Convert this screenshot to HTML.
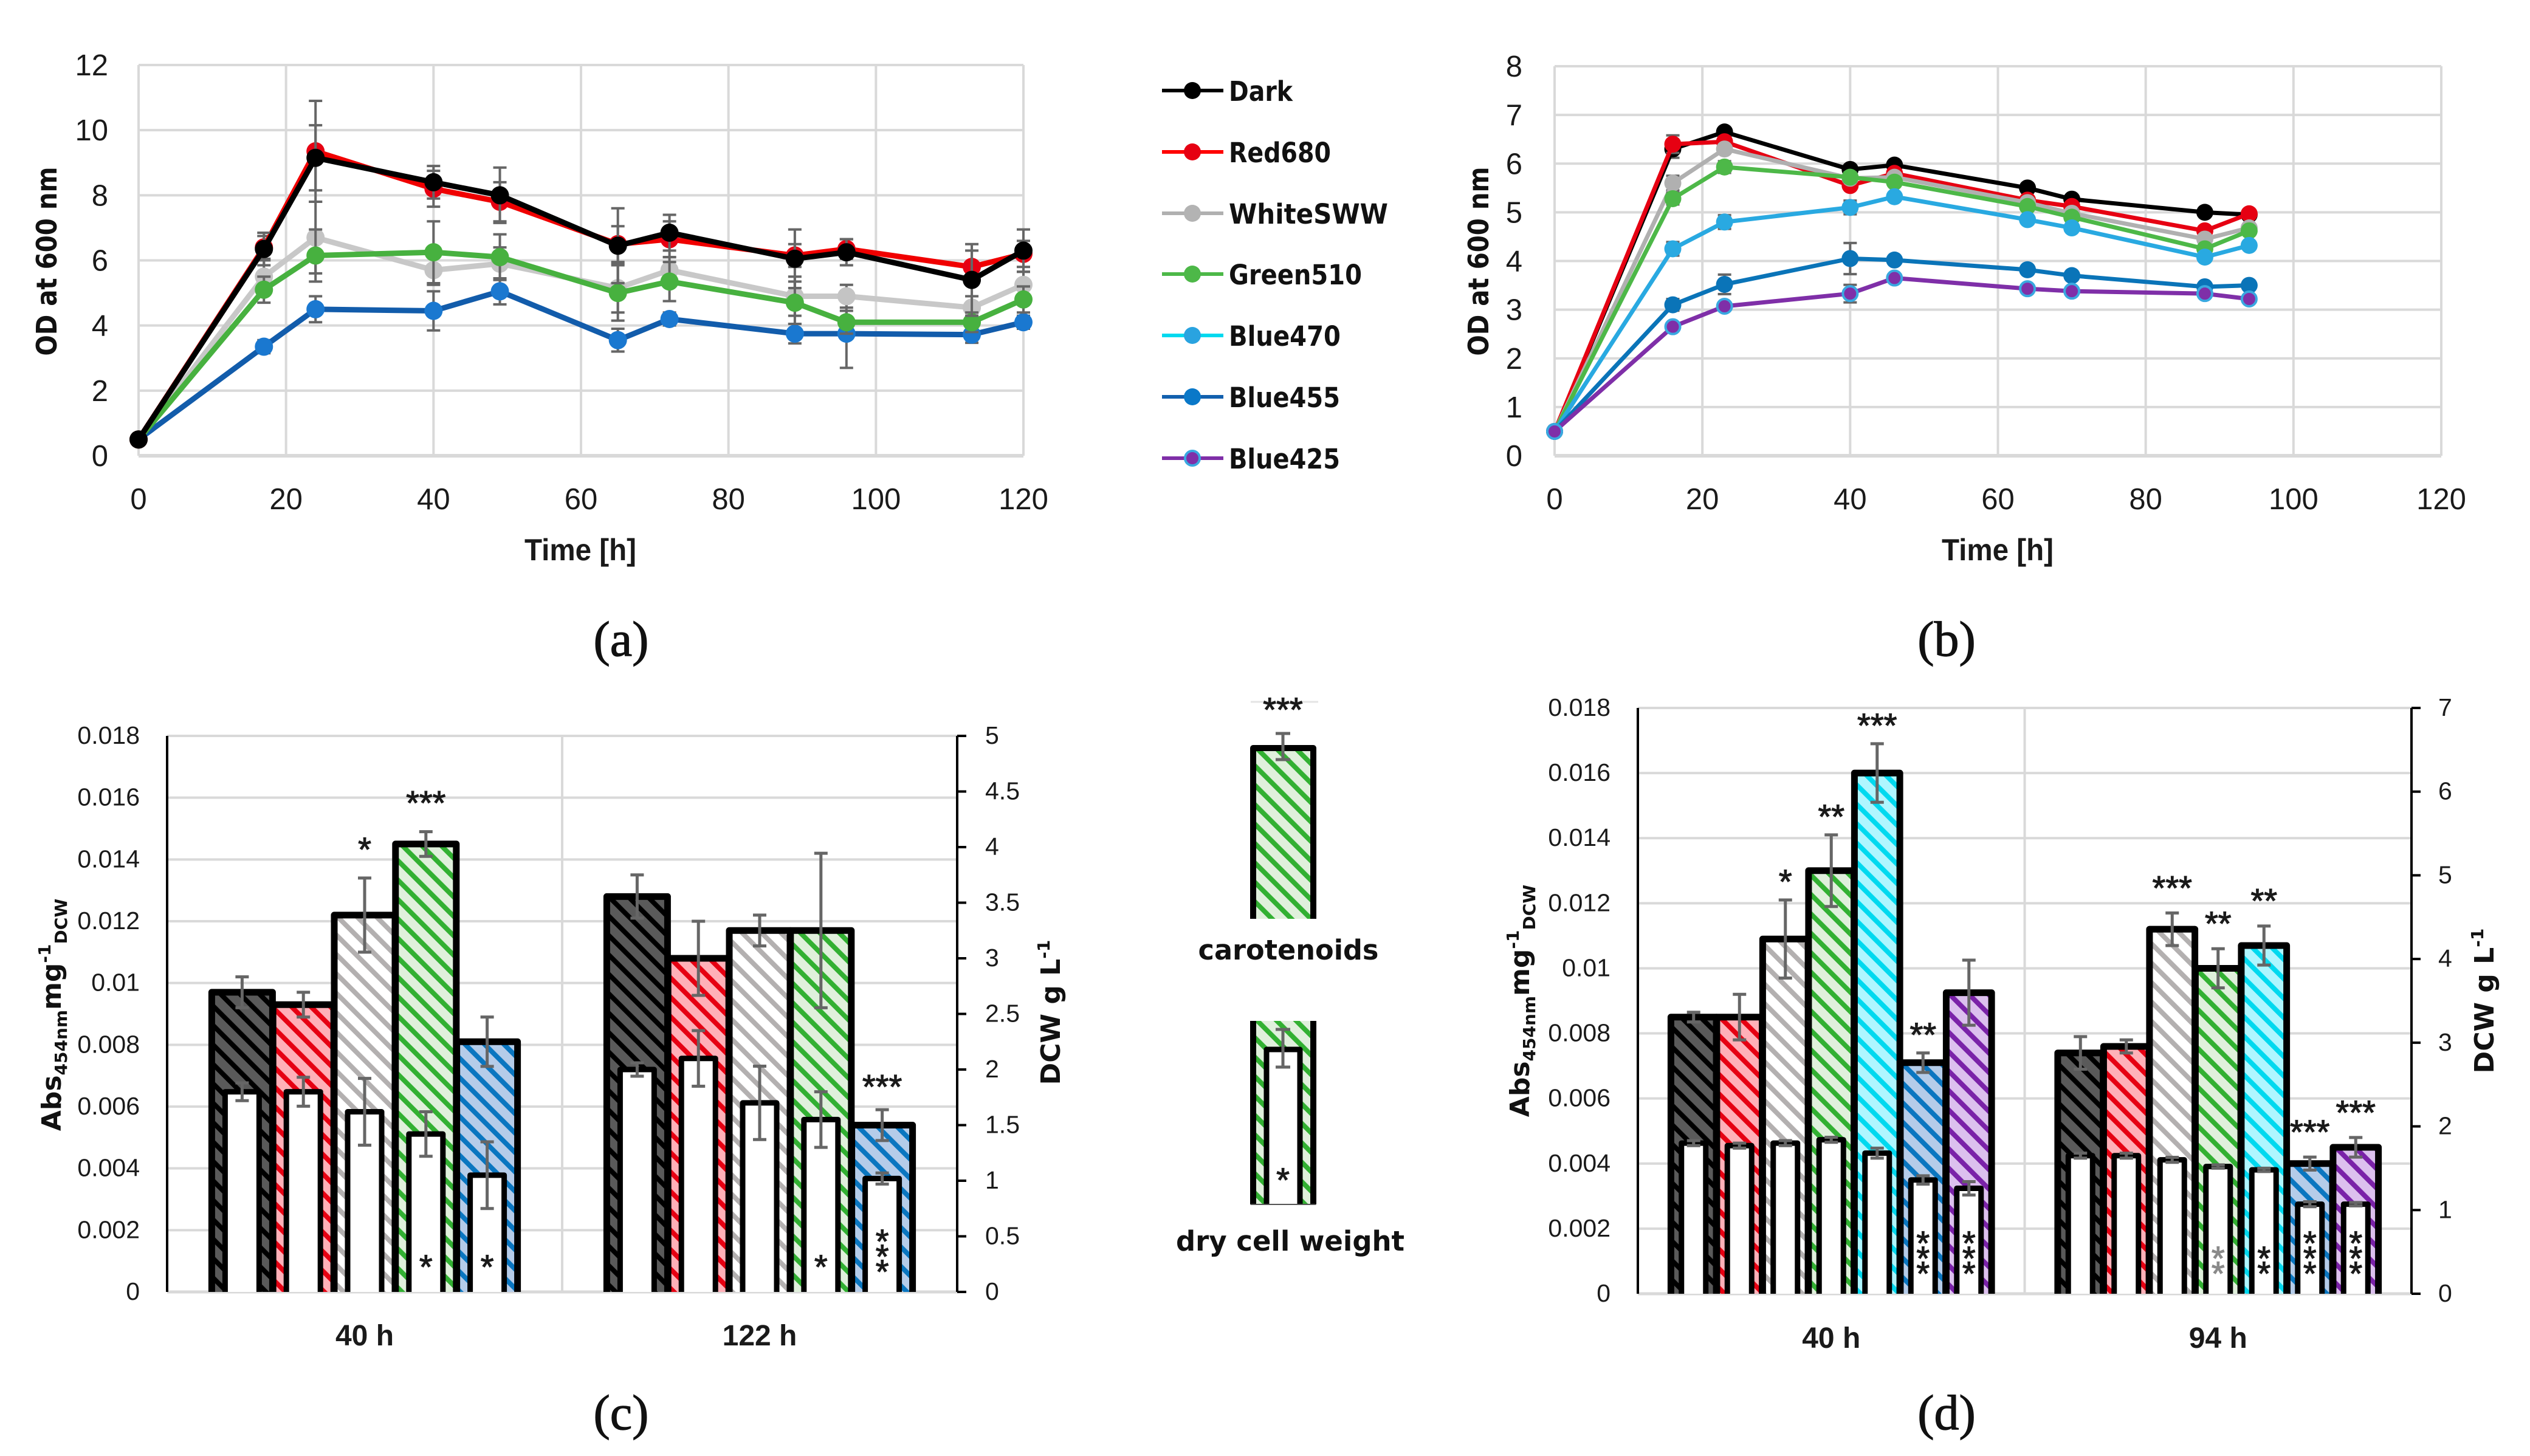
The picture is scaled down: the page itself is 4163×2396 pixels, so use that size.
<!DOCTYPE html>
<html lang="en">
<head>
<meta charset="utf-8">
<title>Growth and carotenoid charts</title>
<style>
html,body{margin:0;padding:0;background:#fff}
svg{display:block}
text{font-family:"Liberation Sans",sans-serif;fill:#1a1a1a}
.title{font-family:"DejaVu Sans","Liberation Sans",sans-serif;font-weight:700;fill:#111}
.panel{font-family:"Liberation Serif",serif;font-size:82px;fill:#111;stroke:#111;stroke-width:1.2}
.lg{font-family:"DejaVu Sans","Liberation Sans",sans-serif;font-weight:700;font-size:45px;fill:#111}
.star{stroke:#1a1a1a;stroke-width:1.2}
</style>
</head>
<body>
<svg id="root" xmlns="http://www.w3.org/2000/svg" width="4163" height="2396" viewBox="0 0 4163 2396">
<defs>
<pattern id="hatch-dark" patternUnits="userSpaceOnUse" width="22.6" height="22.6" patternTransform="rotate(-45)"><rect width="22.6" height="22.6" fill="#5a5a5a"/><rect width="8" height="22.6" fill="#000"/></pattern>
<pattern id="hatch-red" patternUnits="userSpaceOnUse" width="22.6" height="22.6" patternTransform="rotate(-45)"><rect width="22.6" height="22.6" fill="#ffb0b8"/><rect width="8" height="22.6" fill="#e60012"/></pattern>
<pattern id="hatch-gray" patternUnits="userSpaceOnUse" width="22.6" height="22.6" patternTransform="rotate(-45)"><rect width="22.6" height="22.6" fill="#fff"/><rect width="8" height="22.6" fill="#b3b0b0"/></pattern>
<pattern id="hatch-green" patternUnits="userSpaceOnUse" width="22.6" height="22.6" patternTransform="rotate(-45)"><rect width="22.6" height="22.6" fill="#e0f0dc"/><rect width="8" height="22.6" fill="#32b032"/></pattern>
<pattern id="hatch-cyan" patternUnits="userSpaceOnUse" width="22.6" height="22.6" patternTransform="rotate(-45)"><rect width="22.6" height="22.6" fill="#aff6ff"/><rect width="8" height="22.6" fill="#00d9ef"/></pattern>
<pattern id="hatch-blue" patternUnits="userSpaceOnUse" width="22.6" height="22.6" patternTransform="rotate(-45)"><rect width="22.6" height="22.6" fill="#b5cce9"/><rect width="8" height="22.6" fill="#0a76c0"/></pattern>
<pattern id="hatch-purple" patternUnits="userSpaceOnUse" width="22.6" height="22.6" patternTransform="rotate(-45)"><rect width="22.6" height="22.6" fill="#dcc0ee"/><rect width="8" height="22.6" fill="#7a22a8"/></pattern>
</defs>

<g id="chart-a"></g>
<g id="chart-b"></g>
<g id="chart-c"></g>
<g id="chart-d"></g>

<text class="title" font-size="46" transform="translate(93,430) rotate(-90)" text-anchor="middle" textLength="311" lengthAdjust="spacingAndGlyphs">OD at 600 nm</text>
<text x="955" y="922" font-size="50" font-weight="700" text-anchor="middle" textLength="184" lengthAdjust="spacingAndGlyphs">Time [h]</text>
<text class="title" font-size="46" transform="translate(2449,430) rotate(-90)" text-anchor="middle" textLength="311" lengthAdjust="spacingAndGlyphs">OD at 600 nm</text>
<text x="3287" y="922" font-size="50" font-weight="700" text-anchor="middle" textLength="184" lengthAdjust="spacingAndGlyphs">Time [h]</text>

<text class="title" font-size="44" transform="translate(100,1670) rotate(-90)" text-anchor="middle">Abs<tspan font-size="28" dy="10">454nm</tspan><tspan font-size="44" dy="-10">mg</tspan><tspan font-size="28" dy="-17">-1</tspan><tspan font-size="28" dy="27">DCW</tspan></text>
<text class="title" font-size="44" transform="translate(1744,1666) rotate(-90)" text-anchor="middle">DCW g L<tspan font-size="28" dy="-17">-1</tspan></text>
<text class="title" font-size="44" transform="translate(2516,1647) rotate(-90)" text-anchor="middle">Abs<tspan font-size="28" dy="10">454nm</tspan><tspan font-size="44" dy="-10">mg</tspan><tspan font-size="28" dy="-17">-1</tspan><tspan font-size="28" dy="27">DCW</tspan></text>
<text class="title" font-size="44" transform="translate(4103,1647) rotate(-90)" text-anchor="middle">DCW g L<tspan font-size="28" dy="-17">-1</tspan></text>

<text class="panel" x="1022" y="1079" text-anchor="middle">(a)</text>
<text class="panel" x="3203" y="1079" text-anchor="middle">(b)</text>
<text class="panel" x="1022" y="2352" text-anchor="middle">(c)</text>
<text class="panel" x="3203" y="2352" text-anchor="middle">(d)</text>

<g>
  <g><line x1="1912" x2="2013" y1="149" y2="149" stroke="#000" stroke-width="6"/><circle cx="1962" cy="149" r="14" fill="#000"/><text class="lg" x="2022" y="166" textLength="105" lengthAdjust="spacingAndGlyphs">Dark</text></g>
  <g><line x1="1912" x2="2013" y1="250" y2="250" stroke="#f00" stroke-width="6"/><circle cx="1962" cy="250" r="14" fill="#e60012"/><text class="lg" x="2022" y="267" textLength="168" lengthAdjust="spacingAndGlyphs">Red680</text></g>
  <g><line x1="1912" x2="2013" y1="351" y2="351" stroke="#b0b0b0" stroke-width="6"/><circle cx="1962" cy="351" r="14" fill="#b3b3b3"/><text class="lg" x="2022" y="368" textLength="262" lengthAdjust="spacingAndGlyphs">WhiteSWW</text></g>
  <g><line x1="1912" x2="2013" y1="451" y2="451" stroke="#4db848" stroke-width="6"/><circle cx="1962" cy="451" r="14" fill="#4db848"/><text class="lg" x="2022" y="468" textLength="219" lengthAdjust="spacingAndGlyphs">Green510</text></g>
  <g><line x1="1912" x2="2013" y1="552" y2="552" stroke="#00d9ef" stroke-width="6"/><circle cx="1962" cy="552" r="14" fill="#29a3e0"/><text class="lg" x="2022" y="569" textLength="184" lengthAdjust="spacingAndGlyphs">Blue470</text></g>
  <g><line x1="1912" x2="2013" y1="653" y2="653" stroke="#1260ae" stroke-width="6"/><circle cx="1962" cy="653" r="14" fill="#0a78c8"/><text class="lg" x="2022" y="670" textLength="183" lengthAdjust="spacingAndGlyphs">Blue455</text></g>
  <g><line x1="1912" x2="2013" y1="754" y2="754" stroke="#7f2fa8" stroke-width="6"/><circle cx="1962" cy="754" r="12" fill="#7f2fa8" stroke="#3aa8e0" stroke-width="4"/><text class="lg" x="2022" y="771" textLength="183" lengthAdjust="spacingAndGlyphs">Blue425</text></g>
</g>

<g>
  <g>
    <line x1="2058" x2="2169" y1="1155" y2="1155" stroke="#e4e4e4" stroke-width="3"/>
    <text class="star" x="2111" y="1187" font-size="56" text-anchor="middle">***</text>
    <path d="M2062,1512V1231H2161V1512Z" fill="url(#hatch-green)"/>
    <path d="M2062,1512V1231H2161V1512" fill="none" stroke="#000" stroke-width="10" stroke-linejoin="round"/>
    <path d="M2111,1207V1250M2099,1207H2123M2099,1250H2123" stroke="#666" stroke-width="5" fill="none"/>
    <text class="lg" x="2120" y="1579" text-anchor="middle" textLength="297" lengthAdjust="spacingAndGlyphs">carotenoids</text>
  </g>
  <g>
    <rect x="2058" y="1680" width="107" height="302" fill="url(#hatch-green)"/>
    <path d="M2062,1680V1982M2161,1680V1982" stroke="#000" stroke-width="10" fill="none"/>
    <path d="M2084,1982V1727H2139V1982Z" fill="#fff"/>
    <path d="M2084,1982V1727H2139V1982" fill="none" stroke="#000" stroke-width="9" stroke-linejoin="round"/>
    <line x1="2058" x2="2165" y1="1982" y2="1982" stroke="#555" stroke-width="2"/>
    <path d="M2111,1694V1756M2099,1694H2123M2099,1756H2123" stroke="#666" stroke-width="5" fill="none"/>
    <text class="star" x="2111" y="1961" font-size="56" text-anchor="middle">*</text>
    <text class="lg" x="2123" y="2058" text-anchor="middle" textLength="376" lengthAdjust="spacingAndGlyphs">dry cell weight</text>
  </g>
</g>
</svg>

<script>
// ----- Chart (a) data -----
const aHours = [0, 17, 24, 40, 49, 65, 72, 89, 96, 113, 120];
const aDark = [0.5, 6.35, 9.15, 8.4, 8.0, 6.45, 6.85, 6.05, 6.25, 5.4, 6.3];
const aDarkErr = [0, 0.5, 1.0, 0.5, 0.85, 1.15, 0.55, 0.9, 0.4, 1.1, 0.65];
const aRed = [0.5, 6.4, 9.35, 8.2, 7.8, 6.5, 6.65, 6.15, 6.35, 5.8, 6.2];
const aRedErr = [0, 0.35, 1.55, 0.55, 0.6, 0.55, 0.55, 0.35, 0.3, 0.5, 0.4];
const aWhite = [0.5, 5.5, 6.7, 5.7, 5.9, 5.15, 5.7, 4.9, 4.9, 4.55, 5.25];
const aWhiteErr = [0, 0.5, 1.1, 0.45, 0.5, 0.75, 0.4, 0.6, 0.35, 0.35, 0.4];
const aGreen = [0.5, 5.1, 6.15, 6.25, 6.1, 5.0, 5.35, 4.7, 4.1, 4.1, 4.8];
const aGreenErr = [0, 0.4, 0.8, 0.95, 0.7, 0.85, 0.6, 0.65, 0.35, 0.3, 0.4];
const aBlue = [0.5, 3.35, 4.5, 4.45, 5.05, 3.55, 4.2, 3.75, 3.75, 3.72, 4.1];
const aBlueErr = [0, 0.2, 0.4, 0.6, 0.4, 0.35, 0.2, 0.3, 1.05, 0.25, 0.2];
const aXTicks = [0, 20, 40, 60, 80, 100, 120];
const aYTicks = [0, 2, 4, 6, 8, 10, 12];

// ----- Chart (b) data -----
const bHours = [0, 16, 23, 40, 46, 64, 70, 88, 94];
const bDark = [0.5, 6.3, 6.65, 5.88, 5.97, 5.5, 5.27, 5.0, 4.95];
const bDarkErr = [0, 0.18, 0.05, 0.05, 0.05, 0.08, 0.05, 0.05, 0.05];
const bRed = [0.5, 6.4, 6.45, 5.55, 5.8, 5.25, 5.12, 4.62, 4.97];
const bRedErr = [0, 0.18, 0.1, 0.05, 0.05, 0.05, 0.05, 0.05, 0.05];
const bWhite = [0.5, 5.6, 6.3, 5.7, 5.72, 5.2, 4.98, 4.45, 4.68];
const bWhiteErr = [0, 0.15, 0.08, 0.05, 0.05, 0.05, 0.05, 0.05, 0.05];
const bGreen = [0.5, 5.28, 5.93, 5.72, 5.62, 5.12, 4.9, 4.25, 4.62];
const bGreenErr = [0, 0.12, 0.12, 0.1, 0.05, 0.05, 0.05, 0.05, 0.05];
const bB470 = [0.5, 4.25, 4.8, 5.1, 5.32, 4.85, 4.68, 4.08, 4.32];
const bB470Err = [0, 0.14, 0.14, 0.14, 0.08, 0.05, 0.05, 0.05, 0.05];
const bB455 = [0.5, 3.1, 3.52, 4.05, 4.02, 3.82, 3.7, 3.47, 3.5];
const bB455Err = [0, 0.12, 0.2, 0.32, 0.05, 0.05, 0.05, 0.05, 0.05];
const bB425 = [0.5, 2.65, 3.07, 3.33, 3.65, 3.43, 3.38, 3.33, 3.22];
const bB425Err = [0, 0.05, 0.05, 0.18, 0.05, 0.05, 0.05, 0.05, 0.05];
const bXTicks = [0, 20, 40, 60, 80, 100, 120];
const bYTicks = [0, 1, 2, 3, 4, 5, 6, 7, 8];

// ----- Chart (c) data -----
const cCategories = ['40 h', '122 h'];
const cFills = ['dark', 'red', 'gray', 'green', 'blue'];
const cCarotenoids = [[0.0097, 0.0093, 0.0122, 0.0145, 0.0081], [0.0128, 0.0108, 0.0117, 0.0117, 0.0054]];
const cCarotenoidsErr = [[0.0005, 0.0004, 0.0012, 0.0004, 0.0008], [0.0007, 0.0012, 0.0005, 0.0025, 0.0005]];
const cDcw = [[1.8, 1.8, 1.62, 1.42, 1.05], [2.0, 2.1, 1.7, 1.55, 1.02]];
const cDcwErr = [[0.08, 0.13, 0.3, 0.2, 0.3], [0.06, 0.25, 0.33, 0.25, 0.05]];
const cSigTop = [[0, 0, 1, 3, 0], [0, 0, 0, 0, 3]];
const cSigInner = [[0, 0, 0, 1, 1], [0, 0, 0, 1, 3]];
const cSigGap = [0.00118, 0.001];
const cLeftTicks = [0, 0.002, 0.004, 0.006, 0.008, 0.01, 0.012, 0.014, 0.016, 0.018];
const cRightTicks = [0, 0.5, 1, 1.5, 2, 2.5, 3, 3.5, 4, 4.5, 5];

// ----- Chart (d) data -----
const dCategories = ['40 h', '94 h'];
const dFills = ['dark', 'red', 'gray', 'green', 'cyan', 'blue', 'purple'];
const dCarotenoids = [[0.0085, 0.0085, 0.0109, 0.013, 0.016, 0.0071, 0.00925], [0.0074, 0.0076, 0.0112, 0.01, 0.0107, 0.004, 0.0045]];
const dCarotenoidsErr = [[0.00015, 0.0007, 0.0012, 0.0011, 0.0009, 0.0003, 0.001], [0.0005, 0.0002, 0.0005, 0.0006, 0.0006, 0.0002, 0.0003]];
const dDcw = [[1.8, 1.77, 1.8, 1.84, 1.68, 1.36, 1.26], [1.65, 1.65, 1.6, 1.52, 1.48, 1.07, 1.07]];
const dDcwErr = [[0.03, 0.03, 0.03, 0.03, 0.06, 0.05, 0.08], [0.03, 0.03, 0.03, 0.02, 0.02, 0.03, 0.02]];
const dSigTop = [[0, 0, 1, 2, 3, 2, 0], [0, 0, 3, 2, 2, 3, 3]];
const dSigInner = [[0, 0, 0, 0, 0, 3, 3], [0, 0, 0, 2, 2, 3, 3]];
const dSigGap = [0.0008, 0.00101];
const dLeftTicks = [0, 0.002, 0.004, 0.006, 0.008, 0.01, 0.012, 0.014, 0.016, 0.018];
const dRightTicks = [0, 1, 2, 3, 4, 5, 6, 7];

const NS = 'http://www.w3.org/2000/svg';
function mk(tag, attrs, parent, txt) {
  const el = document.createElementNS(NS, tag);
  for (const k in attrs) el.setAttribute(k, attrs[k]);
  if (txt !== undefined) el.textContent = txt;
  parent.appendChild(el);
  return el;
}
function scale(d0, d1, r0, r1) {
  return function (v) { return r0 + (v - d0) / (d1 - d0) * (r1 - r0); };
}
const GRID = '#d9d9d9';
const ERR = '#666';

function errorBar(g, cx, yTop, yBot, cap, width, name) {
  const el = mk('path', {
    d: 'M' + cx + ',' + yTop + 'V' + yBot + 'M' + (cx - cap) + ',' + yTop + 'H' + (cx + cap) + 'M' + (cx - cap) + ',' + yBot + 'H' + (cx + cap),
    stroke: ERR, 'stroke-width': width, fill: 'none'
  }, g);
  
  
}

function lineChart(id, box, xTicks, yTicks, hours, series) {
  const g = document.getElementById(id);
  const X = scale(xTicks[0], xTicks[xTicks.length - 1], box.x0, box.x1);
  const Y = scale(yTicks[0], yTicks[yTicks.length - 1], box.y0, box.y1);
  xTicks.forEach(function (t) {
    const gl = mk('line', { x1: X(t), x2: X(t), y1: box.y1, y2: box.y0, stroke: GRID, 'stroke-width': 4 }, g);
    
    
    const lb = mk('text', { x: X(t), y: box.y0 + 88, 'font-size': 49, 'text-anchor': 'middle' }, g, String(t));
    
    
  });
  yTicks.forEach(function (t) {
    const gl = mk('line', { x1: box.x0, x2: box.x1, y1: Y(t), y2: Y(t), stroke: GRID, 'stroke-width': t === 0 ? 6 : 4 }, g);
    
    
    const lb = mk('text', { x: box.labelX, y: Y(t) + 17, 'font-size': 49, 'text-anchor': 'end' }, g, String(t));
    
    
  });
  series.forEach(function (s) {
    const sg = mk('g', {}, g);
    
    
    hours.forEach(function (h, i) {
      if (s.err[i] > 0) {
        errorBar(sg, X(h), Y(s.values[i] + s.err[i]), Y(s.values[i] - s.err[i]), 11, 4, s.name + '-error-bar');
      }
    });
    const pts = hours.map(function (h, i) { return X(h) + ',' + Y(s.values[i]); }).join(' ');
    const ln = mk('polyline', { points: pts, fill: 'none', stroke: s.line, 'stroke-width': box.lineWidth, 'stroke-linejoin': 'round' }, sg);
    
    
    hours.forEach(function (h, i) {
      const c = mk('circle', { cx: X(h), cy: Y(s.values[i]), r: s.stroke ? box.r - 2 : box.r, fill: s.marker }, sg);
      if (s.stroke) { c.setAttribute('stroke', s.stroke); c.setAttribute('stroke-width', 4); }
      
      
    });
  });
}

function barChart(id, box, cats, fills, main, mainErr, dcw, dcwErr, sigTop, sigInner, sigGap, leftTicks, rightTicks, grayStar) {
  const g = document.getElementById(id);
  const YL = scale(leftTicks[0], leftTicks[leftTicks.length - 1], box.y0, box.y1);
  const YR = scale(rightTicks[0], rightTicks[rightTicks.length - 1], box.y0, box.y1);
  const groupW = (box.x1 - box.x0) / cats.length;
  leftTicks.forEach(function (t) {
    const gl = mk('line', { x1: box.x0, x2: box.x1, y1: YL(t), y2: YL(t), stroke: GRID, 'stroke-width': t === 0 ? 5 : 4 }, g);
    
    
    const lb = mk('text', { x: box.leftLabelX, y: YL(t) + 13, 'font-size': 41, 'text-anchor': 'end' }, g, String(t));
    
    
  });
  const mid = mk('line', { x1: box.x0 + groupW, x2: box.x0 + groupW, y1: box.y1, y2: box.y0, stroke: GRID, 'stroke-width': 4 }, g);
  
  
  const la = mk('line', { x1: box.x0, x2: box.x0, y1: box.y1, y2: box.y0, stroke: '#000', 'stroke-width': 4 }, g);
  
  
  const ra = mk('line', { x1: box.x1, x2: box.x1, y1: box.y1, y2: box.y0, stroke: '#000', 'stroke-width': 4 }, g);
  
  
  rightTicks.forEach(function (t) {
    const tk = mk('line', { x1: box.x1, x2: box.x1 + 15, y1: YR(t), y2: YR(t), stroke: '#000', 'stroke-width': 4 }, g);
    
    
    const lb = mk('text', { x: box.rightLabelX, y: YR(t) + 13, 'font-size': 41 }, g, String(t));
    
    
  });
  cats.forEach(function (cat, ci) {
    const cx0 = box.x0 + groupW * (ci + 0.5);
    const cl = mk('text', { x: cx0, y: box.catY, 'font-size': 48, 'font-weight': 700, 'text-anchor': 'middle' }, g, cat);
    
    
    fills.forEach(function (fill, i) {
      const cx = cx0 + (i - (fills.length - 1) / 2) * box.pitch;
      const hw = box.pitch / 2 - 0.4;
      const top = YL(main[ci][i]);
      const bar = mk('path', { d: 'M' + (cx - hw) + ',' + box.y0 + 'V' + top + 'H' + (cx + hw) + 'V' + box.y0 + 'Z', fill: 'url(#hatch-' + fill + ')' }, g);
      
      
      const edge = mk('path', { d: 'M' + (cx - hw) + ',' + box.y0 + 'V' + top + 'H' + (cx + hw) + 'V' + box.y0, fill: 'none', stroke: '#000', 'stroke-width': 11, 'stroke-linejoin': 'round' }, g);
      
      
    });
    fills.forEach(function (fill, i) {
      const cx = cx0 + (i - (fills.length - 1) / 2) * box.pitch;
      const v = main[ci][i], e = mainErr[ci][i];
      errorBar(g, cx, YL(v + e), YL(v - e), 11, 5, 'carotenoid-error-bar');
      if (sigTop[ci][i]) {
        const st = mk('text', { class: 'star', x: cx, y: YL(v + e + sigGap[ci]) + 32, 'font-size': 56, 'text-anchor': 'middle' }, g, '*'.repeat(sigTop[ci][i]));
        
        
      }
    });
    fills.forEach(function (fill, i) {
      const cx = cx0 + (i - (fills.length - 1) / 2) * box.pitch;
      const hw = box.innerHalf;
      const v = dcw[ci][i], e = dcwErr[ci][i];
      const top = YR(v);
      const bar = mk('path', { d: 'M' + (cx - hw) + ',' + box.y0 + 'V' + top + 'H' + (cx + hw) + 'V' + box.y0 + 'Z', fill: '#fff' }, g);
      
      
      const edge = mk('path', { d: 'M' + (cx - hw) + ',' + box.y0 + 'V' + top + 'H' + (cx + hw) + 'V' + box.y0, fill: 'none', stroke: '#000', 'stroke-width': 9, 'stroke-linejoin': 'round' }, g);
      
      
      errorBar(g, cx, YR(v + e), YR(v - e), 11, 5, 'dcw-error-bar');
      const n = sigInner[ci][i];
      const isGray = grayStar && grayStar[0] === ci && grayStar[1] === i;
      for (let k = 0; k < n; k++) {
        const yc = box.y0 - (n === 1 ? 54 : 46) - k * 25;
        const st = mk('text', { class: 'star', x: cx, y: yc + 32, 'font-size': 56, 'text-anchor': 'middle' }, g, '*');
        if (isGray) { st.style.fill = '#8a8a8a'; st.style.stroke = '#8a8a8a'; }
        
        
      }
    });
  });
}

lineChart('chart-a', { x0: 228, x1: 1684, y0: 750, y1: 107, labelX: 178, lineWidth: 9, r: 15 }, aXTicks, aYTicks, aHours, [
  { name: 'blue455', values: aBlue, err: aBlueErr, line: '#125cab', marker: '#1a78d0' },
  { name: 'whitesww', values: aWhite, err: aWhiteErr, line: '#c8c8c8', marker: '#c4c4c4' },
  { name: 'green510', values: aGreen, err: aGreenErr, line: '#47b13f', marker: '#47b13f' },
  { name: 'red680', values: aRed, err: aRedErr, line: '#f00000', marker: '#e60012' },
  { name: 'dark', values: aDark, err: aDarkErr, line: '#000', marker: '#000' }
]);

lineChart('chart-b', { x0: 2558, x1: 4017, y0: 750, y1: 109, labelX: 2505, lineWidth: 7, r: 14 }, bXTicks, bYTicks, bHours, [
  { name: 'dark', values: bDark, err: bDarkErr, line: '#000', marker: '#000' },
  { name: 'red680', values: bRed, err: bRedErr, line: '#e60012', marker: '#e60012' },
  { name: 'whitesww', values: bWhite, err: bWhiteErr, line: '#b0b0b0', marker: '#b0b0b0' },
  { name: 'green510', values: bGreen, err: bGreenErr, line: '#4db848', marker: '#4db848' },
  { name: 'blue470', values: bB470, err: bB470Err, line: '#29a9e1', marker: '#29a9e1' },
  { name: 'blue455', values: bB455, err: bB455Err, line: '#0a74b8', marker: '#0a74b8' },
  { name: 'blue425', values: bB425, err: bB425Err, line: '#7f2fa8', marker: '#7f2fa8', stroke: '#3aa8e0' }
]);

barChart('chart-c', { x0: 275, x1: 1575, y0: 2126, y1: 1211, pitch: 100.8, innerHalf: 28, leftLabelX: 230, rightLabelX: 1621, catY: 2214 },
  cCategories, cFills, cCarotenoids, cCarotenoidsErr, cDcw, cDcwErr, cSigTop, cSigInner, cSigGap, cLeftTicks, cRightTicks, null);

barChart('chart-d', { x0: 2695, x1: 3968, y0: 2129, y1: 1165, pitch: 75.5, innerHalf: 20, leftLabelX: 2650, rightLabelX: 4012, catY: 2218 },
  dCategories, dFills, dCarotenoids, dCarotenoidsErr, dDcw, dDcwErr, dSigTop, dSigInner, dSigGap, dLeftTicks, dRightTicks, [1, 3]);
</script>
</body>
</html>
